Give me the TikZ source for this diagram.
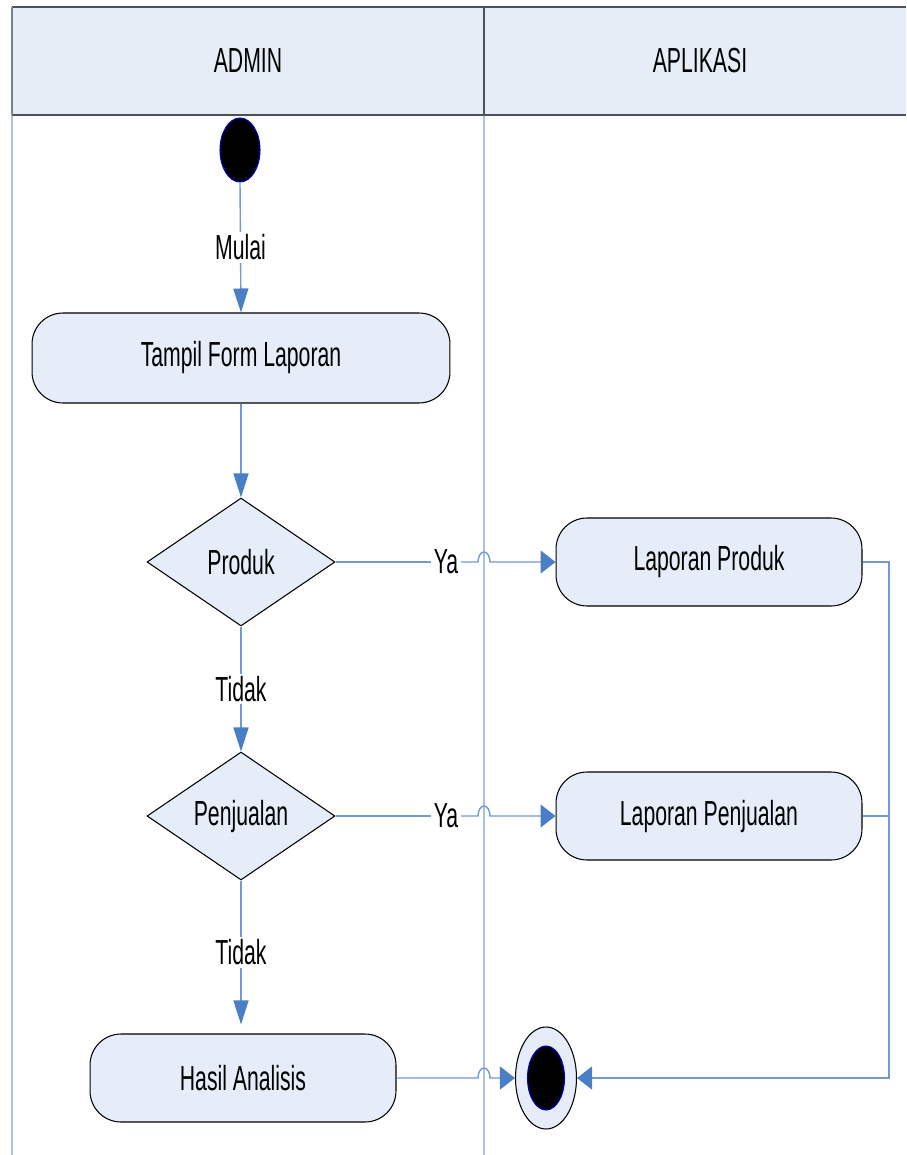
\documentclass[tikz,border=0pt]{standalone}
\usepackage{fontspec}
\setmainfont{Liberation Sans}[FakeStretch=0.61]
\usetikzlibrary{shapes.geometric,arrows.meta,calc}

\definecolor{headfill}{HTML}{E6EDF7}
\definecolor{headline}{HTML}{4D5159}
\definecolor{nodefill}{HTML}{E6EDF8}
\definecolor{lanecol}{HTML}{A9C1E8}
\definecolor{conncol}{HTML}{7299D3}
\definecolor{arrowcol}{HTML}{4A7EC5}

\begin{document}
\begin{tikzpicture}[
    x=0.02cm, y=-0.02cm,
    every node/.style={font=\fontsize{19.8}{22}\selectfont},
    % activity boxes and decisions
    aksi/.style={
        rectangle,
        draw=black,
        line width=0.6pt,
        fill=nodefill,
        rounded corners=0.62cm,
        minimum width=6.12cm,
        minimum height=1.76cm
    },
    keputusan/.style={
        diamond,
        draw=black,
        line width=0.6pt,
        fill=nodefill,
        inner sep=0pt,
        aspect=1.47,
        minimum width=3.76cm,
        minimum height=2.56cm
    },
    conn/.style={draw=conncol, line width=0.8pt},
    varrow/.style={-{Triangle[length=0.48cm,width=0.3cm,color=arrowcol]}},
    harrow/.style={-{Triangle[length=0.3cm,width=0.46cm,color=arrowcol]}},
    lbl/.style={fill=white, inner sep=1.5pt}
]
\useasboundingbox (0,0) rectangle (906,1155);

% Swimlanes
\fill[headfill] (12,7) rectangle (906,115);
\draw[lanecol, line width=0.7pt] (12,115) -- (12,1155);
\draw[lanecol, line width=0.7pt] (484,115) -- (484,1155);
\draw[headline, line width=1.1pt] (12,7) -- (906,7);
\draw[headline, line width=1.1pt] (12,115) -- (906,115);
\draw[gray, line width=0.8pt] (12,7) -- (12,115);
\draw[headline, line width=0.6pt] (484,7) -- (484,115);
\coordinate (lanemid) at (484,0);
\coordinate (rail) at (889,0);

\node (hadmin) at (248,61) {ADMIN};
\node (haplikasi) at (700,61) {APLIKASI};

% Admin lane
\node[ellipse, fill=black, draw=blue!80!black, line width=0.6pt, minimum width=0.8cm, minimum height=1.28cm, inner sep=0pt] (mulai) at (240,150) {};
\node[aksi, minimum width=8.36cm, minimum height=1.8cm] (tampil) at (241,358) {Tampil Form Laporan};
\node[keputusan] (produk) at (241,562) {Produk};
\node[keputusan] (penjualan) at (241,816) {Penjualan};
\node[aksi] (hasil) at (243,1078) {Hasil Analisis};

% Aplikasi lane
\node[aksi] (lapprod) at (709,562) {Laporan Produk};
\node[aksi] (lappen) at (709,816) {Laporan Penjualan};
\node[ellipse, fill=nodefill, draw=black, line width=0.6pt, minimum width=1.22cm, minimum height=2.04cm, inner sep=0pt] (akhir) at (546,1078) {};
\node[ellipse, fill=black, draw=blue!80!black, line width=0.6pt, minimum width=0.74cm, minimum height=1.28cm, inner sep=0pt] (akhirdot) at (546,1078) {};

% Flow
\draw[conn, varrow] (mulai.south) -- node[lbl] {Mulai} (tampil.north);
\draw[conn, varrow] (tampil.south) -- (produk.north);
\draw[conn, varrow] (produk.south) -- node[lbl] {Tidak} (penjualan.north);
\draw[conn, varrow] (penjualan.south) -- node[lbl] {Tidak} ($(hasil.north -| penjualan.south)+(0,-9)$);

\node[lbl] (yaprod) at (446,562) {Ya};
\node[lbl] (yapen) at (446,816) {Ya};
\draw[conn] (produk.east) -- (yaprod.west);
\draw[conn, harrow] (yaprod.east) -- ($(yaprod.east -| lanemid)+(-6,0)$)
    arc[start angle=180, end angle=0, x radius=0.12cm, y radius=0.2cm] -- (lapprod.west);
\draw[conn] (penjualan.east) -- (yapen.west);
\draw[conn, harrow] (yapen.east) -- ($(yapen.east -| lanemid)+(-6,0)$)
    arc[start angle=180, end angle=0, x radius=0.12cm, y radius=0.2cm] -- (lappen.west);
\draw[conn, harrow] (hasil.east) -- ($(hasil.east -| lanemid)+(-6,0)$)
    arc[start angle=180, end angle=0, x radius=0.12cm, y radius=0.2cm] -- (akhir.west);

% merge to the end
\draw[conn, harrow] (lapprod.east) -- (lapprod.east -| rail) -- (rail |- akhir.east) -- (akhir.east);
\draw[conn] (lappen.east) -- (lappen.east -| rail);

\end{tikzpicture}
\end{document}
